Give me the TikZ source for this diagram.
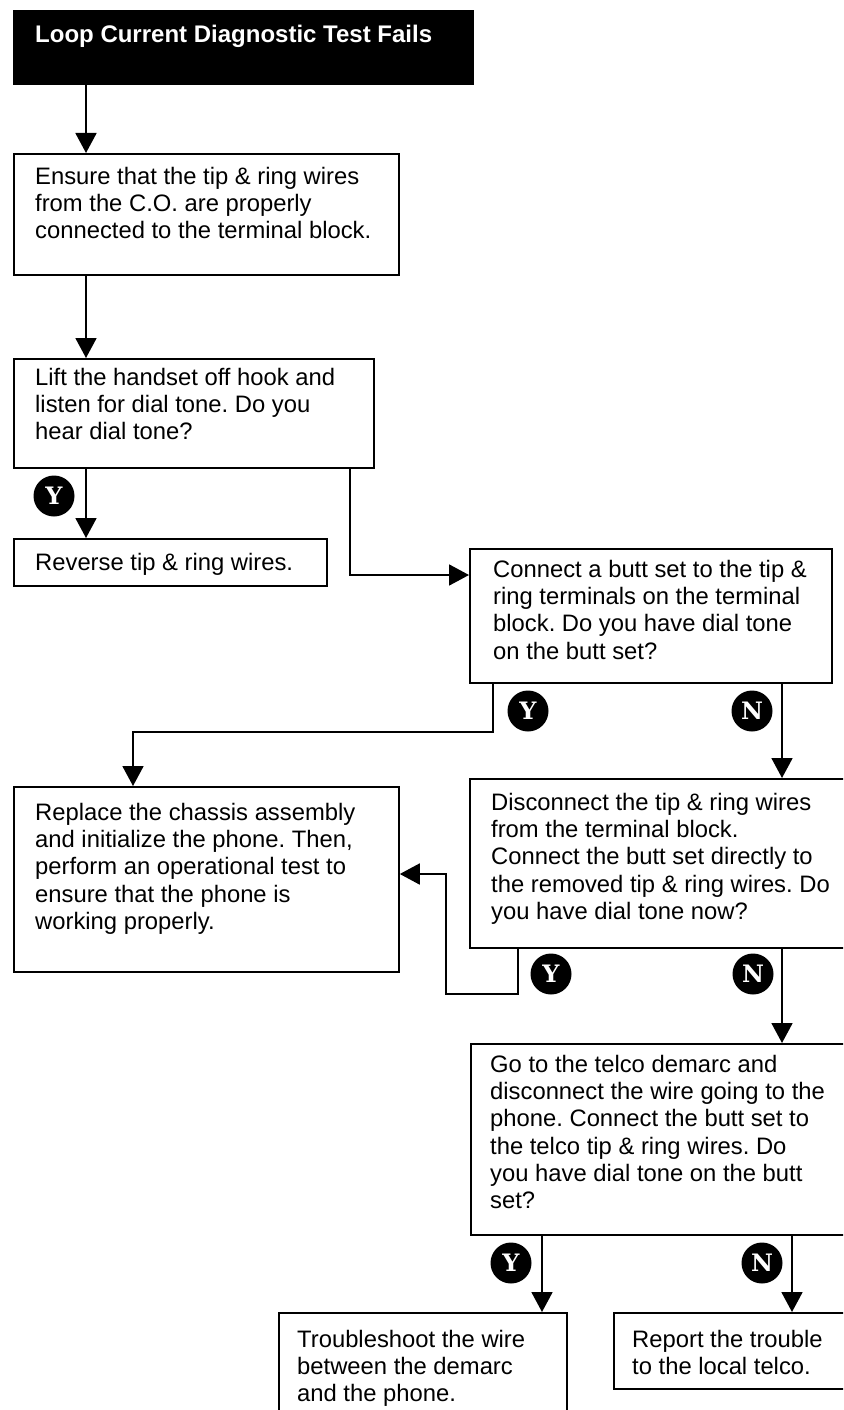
\documentclass[tikz,border=0pt]{standalone}
\usepackage{fontspec}
\setmainfont{Liberation Sans}
\newfontfamily\badgefam{DejaVu Serif}
\usetikzlibrary{arrows.meta,calc}

\tikzset{
  box/.style={draw, line width=1.8pt, fill=white, inner sep=0pt, anchor=north west},
  txt/.style={anchor=north west, inner sep=0pt, align=left,
              font=\frenchspacing\fontsize{23.8}{27.2}\selectfont,
              execute at begin node={\rule{0pt}{20pt}}},
  arr/.style={line width=1.8pt, -{Triangle[width=21pt,length=20pt]}},
  badge/.style={circle, fill=black, text=white, minimum size=41pt, inner sep=0pt,
                font=\badgefam\bfseries\fontsize{24}{24}\selectfont},
}

\begin{document}
\begin{tikzpicture}[x=1pt,y=-1pt]
\useasboundingbox (0,0) rectangle (843,1410);
\clip (0,0) rectangle (843,1410);

% title bar
\node[box, fill=black, minimum width=459pt, minimum height=73pt] (head) at (13,10) {};
\node[anchor=base west, inner sep=0pt, text=white,
      font=\bfseries\fontsize{24}{27}\selectfont] (head-t) at (35,43)
      {Loop Current Diagnostic Test Fails};

% process boxes
\node[box, minimum width=385pt, minimum height=121pt] (ensure)  at (13,153)  {};
\node[box, minimum width=360pt, minimum height=109pt] (lift)    at (13,358)  {};
\node[box, minimum width=313pt, minimum height=47pt]  (reverse) at (13,538)  {};
\node[box, minimum width=362pt, minimum height=134pt] (butt)    at (469,548) {};
\node[box, minimum width=385pt, minimum height=185pt] (replace) at (13,786)  {};
\node[box, minimum width=400pt, minimum height=169pt] (disc)    at (469,778) {};
\node[box, minimum width=400pt, minimum height=191pt] (demarc)  at (470,1043) {};
\node[box, minimum width=288pt, minimum height=130pt] (trouble) at (278,1312) {};
\node[box, minimum width=250pt, minimum height=76pt]  (report)  at (613,1312) {};

% box texts
\node[txt] (ensure-t) at ($(ensure.north west)+(22,14)$)
  {Ensure that the tip \& ring wires\\from the C.O. are properly\\connected to the terminal block.};
\node[txt] (lift-t) at ($(lift.north west)+(22,10)$)
  {Lift the handset off hook and\\listen for dial tone. Do you\\hear dial tone?};
\node[txt] (reverse-t) at ($(reverse.north west)+(22,12)$)
  {Reverse tip \& ring wires.};
\node[txt] (butt-t) at ($(butt.north west)+(24,12)$)
  {Connect a butt set to the tip \&\\ring terminals on the terminal\\block. Do you have dial tone\\on the butt set?};
\node[txt] (replace-t) at ($(replace.north west)+(22,17)$)
  {Replace the chassis assembly\\and initialize the phone. Then,\\perform an operational test to\\ensure that the phone is\\working properly.};
\node[txt] (disc-t) at ($(disc.north west)+(22,15)$)
  {Disconnect the tip \& ring wires\\from the terminal block.\\Connect the butt set directly to\\the removed tip \& ring wires. Do\\you have dial tone now?};
\node[txt] (demarc-t) at ($(demarc.north west)+(20,12)$)
  {Go to the telco demarc and\\disconnect the wire going to the\\phone. Connect the butt set to\\the telco tip \& ring wires. Do\\you have dial tone on the butt\\set?};
\node[txt] (trouble-t) at ($(trouble.north west)+(19,18)$)
  {Troubleshoot the wire\\between the demarc\\and the phone.};
\node[txt] (report-t) at ($(report.north west)+(19,18)$)
  {Report the trouble\\to the local telco.};

% routing points
\coordinate (k1)  at (86,0);
\coordinate (k2)  at (350,575);
\coordinate (k3)  at (493,732);
\coordinate (k3b) at (133,732);
\coordinate (k4)  at (782,0);
\coordinate (k5)  at (518,994);
\coordinate (k5b) at (446,874);
\coordinate (k7)  at (542,0);
\coordinate (k8)  at (792,0);

% connectors
\draw[arr] (head.south -| k1) -- (ensure.north -| k1);
\draw[arr] (ensure.south -| k1) -- (lift.north -| k1);
\draw[arr] (lift.south -| k1) -- (reverse.north -| k1);
\draw[arr] (lift.south -| k2) |- (butt.west |- k2);
\draw[arr] (butt.south -| k3) -- (k3) -- (k3b) -- (replace.north -| k3b);
\draw[arr] (butt.south -| k4) -- (disc.north -| k4);
\draw[arr] (disc.south -| k5) -- (k5) -| (k5b) -- (replace.east |- k5b);
\draw[arr] (disc.south -| k4) -- (demarc.north -| k4);
\draw[arr] (demarc.south -| k7) -- (trouble.north -| k7);
\draw[arr] (demarc.south -| k8) -- (report.north -| k8);

% yes / no badges
\node[badge] (by1) at (54,496)  {Y};
\node[badge] (by2) at (528,711) {Y};
\node[badge] (bn2) at (752,711) {N};
\node[badge] (by3) at (551,974) {Y};
\node[badge] (bn3) at (753,974) {N};
\node[badge] (by4) at (511,1263) {Y};
\node[badge] (bn4) at (762,1263) {N};
\end{tikzpicture}
\end{document}
